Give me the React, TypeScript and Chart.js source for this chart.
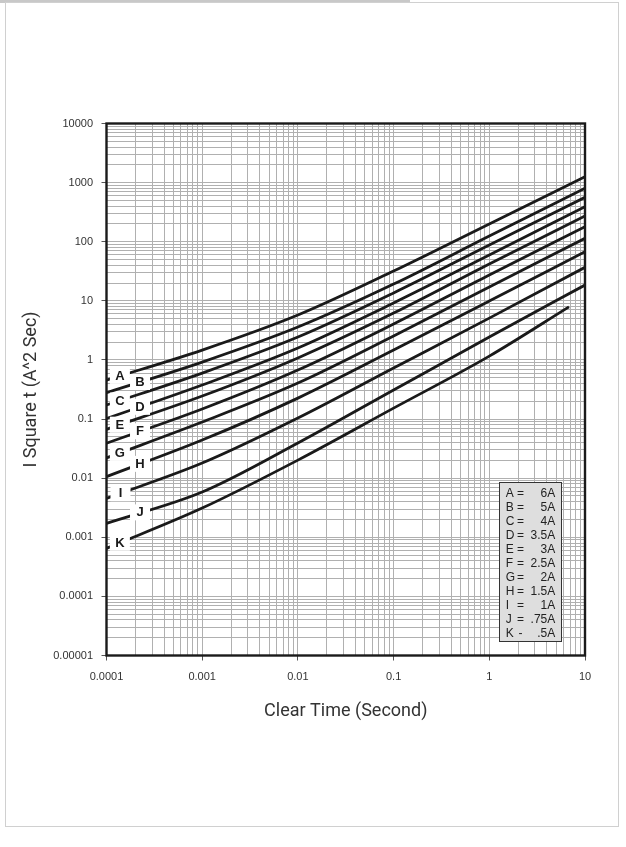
import React, { useEffect, useRef } from 'react';
import { Chart, registerables } from 'chart.js';

Chart.register(...registerables);

// Clear time (seconds) at which each curve is sampled
const clearTimes = [0.0001, 0.001, 0.01, 0.1, 1, 10];
const clearTimesK = [0.0001, 0.001, 0.01, 0.1, 1, 6.8];

// I²t values (A²·s)
const seriesA = [0.457, 1.47, 5.75, 31.9, 200, 1259];
const seriesB = [0.279, 0.92, 3.6, 19.2, 125, 801];
const seriesC = [0.173, 0.6, 2.44, 13.6, 88, 564];
const seriesD = [0.102, 0.376, 1.59, 9.2, 59.6, 391];
const seriesE = [0.067, 0.245, 1.08, 6.2, 42, 272];
const seriesF = [0.039, 0.148, 0.675, 4.05, 27.3, 179];
const seriesG = [0.022, 0.089, 0.406, 2.54, 17.1, 114];
const seriesH = [0.0106, 0.0441, 0.226, 1.47, 9.9, 67.8];
const seriesI = [0.00455, 0.018, 0.104, 0.73, 5.1, 36.9];
const seriesJ = [0.00172, 0.00582, 0.0393, 0.31, 2.44, 18.5];
const seriesK = [0.00065, 0.00312, 0.0202, 0.153, 1.16, 7.9];

const curveLetters = ['A', 'B', 'C', 'D', 'E', 'F', 'G', 'H', 'I', 'J', 'K'];
// clear time at which each curve letter sits
const letterTimes = [1.38e-4, 2.24e-4, 1.38e-4, 2.24e-4, 1.38e-4, 2.24e-4, 1.38e-4, 2.24e-4, 1.4e-4, 2.24e-4, 1.38e-4];

// legend key
const legendSigns = ['=', '=', '=', '=', '=', '=', '=', '=', '=', '=', '-'];
const legendRatings = ['6A', '5A', '4A', '3.5A', '3A', '2.5A', '2A', '1.5A', '1A', '.75A', '.5A'];

// tick labels (decades)
const xTickLabels = ['0.0001', '0.001', '0.01', '0.1', '1', '10'];
const yTickLabels = ['0.00001', '0.0001', '0.001', '0.01', '0.1', '1', '10', '100', '1000', '10000'];

const xTitle = 'Clear Time (Second)';
const yTitle = 'I Square t (A^2 Sec)';

function gridValues(labels: string[]) {
  const out: number[] = [];
  labels.forEach((l, i) => {
    const d = parseFloat(l);
    if (i === labels.length - 1) {
      out.push(d);
    } else {
      for (let k = 1; k <= 9; k++) out.push(Number((k * d).toPrecision(4)));
    }
  });
  return out;
}

function decadeLabel(labels: string[], v: number) {
  const e = Math.log10(v);
  if (Math.abs(e - Math.round(e)) > 1e-6) return '';
  const hit = labels.find((l) => Math.abs(Math.log10(parseFloat(l)) - e) < 1e-6);
  return hit ?? '';
}

function isDecade(v: number) {
  const e = Math.log10(v);
  return Math.abs(e - Math.round(e)) < 1e-6;
}

const allSeries = [seriesA, seriesB, seriesC, seriesD, seriesE, seriesF, seriesG, seriesH, seriesI, seriesJ, seriesK];

const overlayPlugin = {
  id: 'overlay',
  afterDatasetsDraw(chart: any) {
    const { ctx, chartArea } = chart;
    const xs = chart.scales.x;
    ctx.save();
    // curve letters with white boxes
    curveLetters.forEach((letter, i) => {
      const meta = chart.getDatasetMeta(i);
      const pts = meta.data;
      const px = xs.getPixelForValue(letterTimes[i]);
      let py = pts[0].y;
      for (let j = 0; j < pts.length - 1; j++) {
        if (px >= pts[j].x && px <= pts[j + 1].x) {
          const t = (px - pts[j].x) / (pts[j + 1].x - pts[j].x);
          py = pts[j].y + t * (pts[j + 1].y - pts[j].y);
          break;
        }
      }
      ctx.fillStyle = '#ffffff';
      ctx.fillRect(px - 10, py - 8, 20, 16);
      ctx.fillStyle = '#1a1a1a';
      ctx.font = 'bold 13px "Liberation Sans", Arial, sans-serif';
      ctx.textAlign = 'center';
      ctx.textBaseline = 'middle';
      ctx.fillText(letter, px, py + 0.5);
    });

    // legend box
    const bw = 62.4;
    const bh = 159.4;
    const bx = chartArea.right - 23.3 - bw;
    const by = chartArea.bottom - 13.8 - bh;
    ctx.fillStyle = '#dedede';
    ctx.fillRect(bx, by, bw, bh);
    ctx.strokeStyle = '#333';
    ctx.lineWidth = 1;
    ctx.strokeRect(Math.round(bx) + 0.5, Math.round(by) + 0.5, Math.round(bw), Math.round(bh));
    ctx.fillStyle = '#222';
    ctx.font = '12px "Liberation Sans", Arial, sans-serif';
    ctx.textBaseline = 'middle';
    curveLetters.forEach((letter, i) => {
      const y = by + 11.7 + i * 14;
      ctx.textAlign = 'left';
      ctx.fillText(letter, bx + 6.5, y);
      ctx.textAlign = 'center';
      ctx.fillText(legendSigns[i], bx + 21.3, y);
      ctx.textAlign = 'right';
      ctx.fillText(legendRatings[i], bx + 56, y);
    });

    // frame
    ctx.strokeStyle = '#1a1a1a';
    ctx.lineWidth = 2.4;
    ctx.strokeRect(chartArea.left, chartArea.top, chartArea.right - chartArea.left, chartArea.bottom - chartArea.top);
    ctx.restore();
  },
};

export default function App() {
  const ref = useRef<HTMLCanvasElement | null>(null);
  useEffect(() => {
    if (!ref.current) return;
    const datasets = allSeries.map((s, i) => {
      const times = i === 10 ? clearTimesK : clearTimes;
      return {
        label: curveLetters[i],
        data: s.map((v, j) => ({ x: times[j], y: v })),
        borderColor: '#1a1a1a',
        borderWidth: 2.8,
        pointRadius: 0,
        fill: false,
        cubicInterpolationMode: 'monotone' as const,
      };
    });
    const xGrid = gridValues(xTickLabels);
    const yGrid = gridValues(yTickLabels);
    const chart = new Chart(ref.current, {
      type: 'line',
      data: { datasets },
      options: {
        responsive: false,
        animation: false,
        devicePixelRatio: 1,
        layout: { padding: { left: 0, top: 123.5, right: 41, bottom: 122.2 } },
        plugins: { legend: { display: false }, tooltip: { enabled: false } },
        scales: {
          x: {
            type: 'logarithmic',
            min: 0.0001,
            max: 10,
            afterBuildTicks: (scale: any) => {
              scale.ticks = xGrid.map((v) => ({ value: v }));
            },
            afterFit: (scale: any) => {
              scale.height = 69.3;
            },
            ticks: {
              autoSkip: false,
              maxRotation: 0,
              padding: 9.6,
              color: '#333',
              font: { family: '"Liberation Sans", Arial, sans-serif', size: 11 },
              callback: (v: any) => decadeLabel(xTickLabels, Number(v)),
            },
            grid: {
              color: '#b0b0b0',
              lineWidth: 1,
              tickLength: 5,
              tickColor: (c: any) => (c.tick && isDecade(c.tick.value) ? '#555' : 'rgba(0,0,0,0)'),
            },
            border: { display: false },
            title: {
              display: true,
              text: xTitle,
              color: '#333',
              font: { family: 'Roboto, sans-serif', size: 18 },
              padding: { top: 0, bottom: 2.5 },
            },
          },
          y: {
            type: 'logarithmic',
            min: 0.00001,
            max: 10000,
            afterBuildTicks: (scale: any) => {
              scale.ticks = yGrid.map((v) => ({ value: v }));
            },
            afterFit: (scale: any) => {
              scale.width = 106.5;
            },
            ticks: {
              autoSkip: false,
              padding: 8.5,
              color: '#333',
              font: { family: '"Liberation Sans", Arial, sans-serif', size: 11 },
              callback: (v: any) => decadeLabel(yTickLabels, Number(v)),
            },
            grid: {
              color: '#b0b0b0',
              lineWidth: 1,
              tickLength: 5,
              tickColor: (c: any) => (c.tick && isDecade(c.tick.value) ? '#555' : 'rgba(0,0,0,0)'),
            },
            border: { display: false },
            title: {
              display: true,
              text: yTitle,
              color: '#333',
              font: { family: 'Roboto, sans-serif', size: 18 },
              padding: { top: 20.2, bottom: 0 },
            },
          },
        },
      },
      plugins: [overlayPlugin],
    });
    return () => chart.destroy();
  }, []);

  return (
    <div style={{ position: 'absolute', left: 0, top: 0, width: 626, height: 847, background: '#fff' }}>
      <div style={{ position: 'absolute', left: 0, top: 0, width: 410, height: 3, background: '#c8c8c8' }} />
      <div
        style={{
          position: 'absolute',
          left: 5,
          top: 2,
          width: 614,
          height: 825,
          border: '1px solid #d0d0d0',
          boxSizing: 'border-box',
        }}
      />
      <canvas ref={ref} width={626} height={847} style={{ position: 'absolute', left: 0, top: 0, width: 626, height: 847 }} />
    </div>
  );
}
